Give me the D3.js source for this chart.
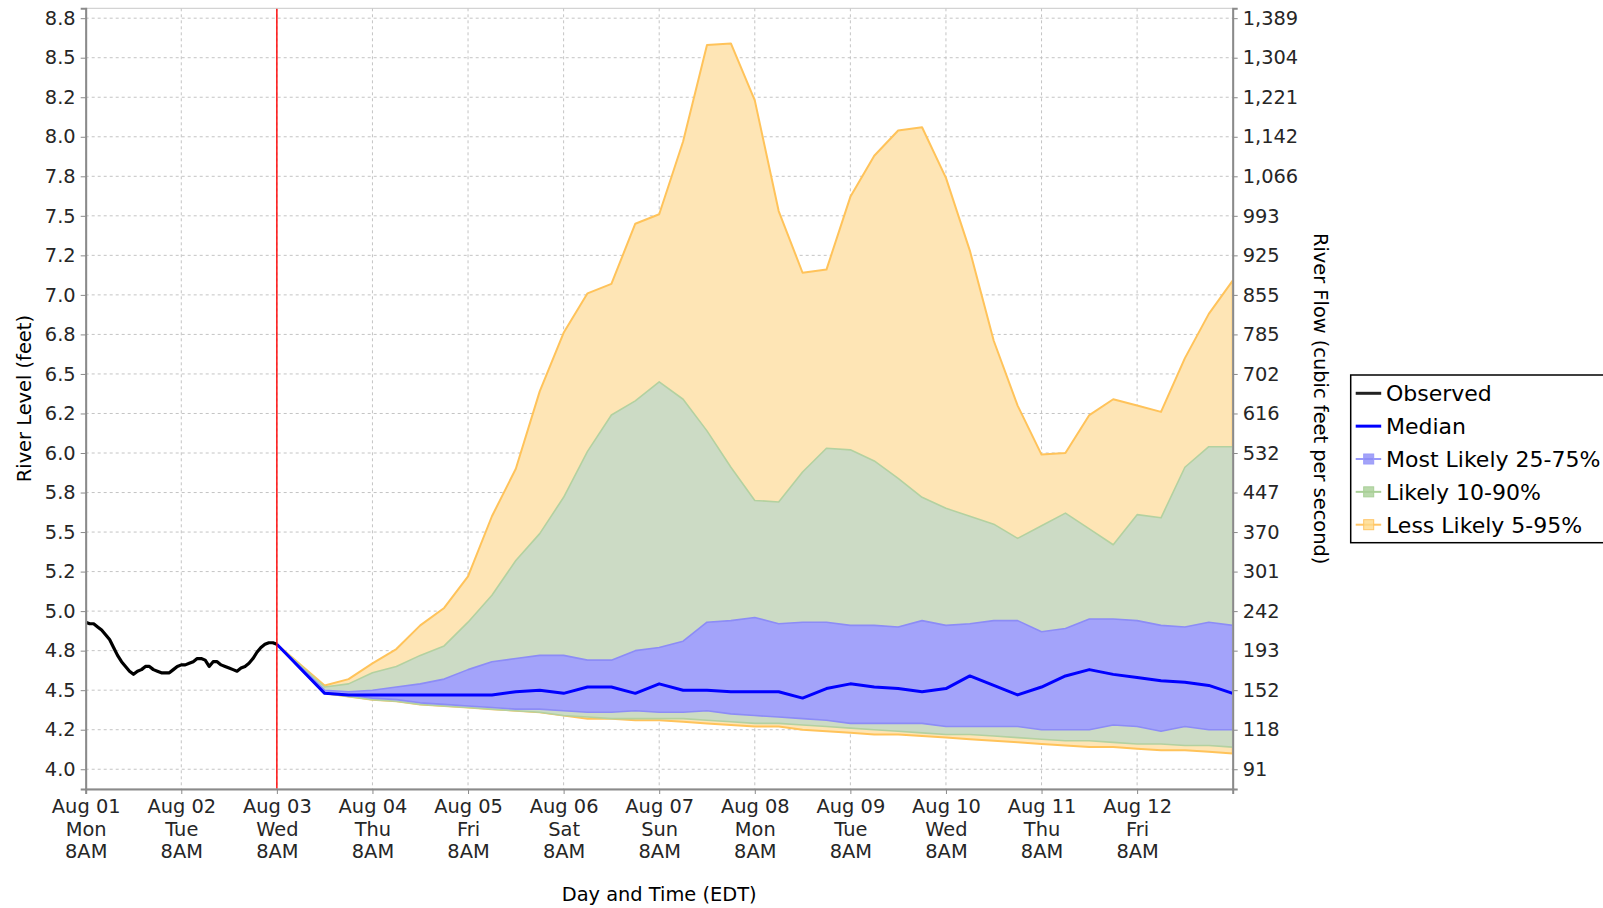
<!DOCTYPE html>
<html>
<head>
<meta charset="utf-8">
<script src="https://cdn.jsdelivr.net/npm/d3@7"></script>
<style>
  body { margin: 0; background: #fff; }
  text { font-family: "DejaVu Sans", sans-serif; }
</style>
</head>
<body>
<svg id="chart" width="1603" height="908"></svg>
<script>

// stage values, feet
// observed: hourly from Aug 01 8AM to Aug 03 8AM
const observed = [4.93, 4.92, 4.92, 4.90, 4.88, 4.85, 4.82, 4.77, 4.72, 4.68,
  4.65, 4.62, 4.60, 4.62, 4.63, 4.65, 4.65, 4.63, 4.62, 4.61,
  4.61, 4.61, 4.63, 4.65, 4.66, 4.66, 4.67, 4.68, 4.70, 4.70,
  4.69, 4.65, 4.68, 4.68, 4.66, 4.65, 4.64, 4.63, 4.62, 4.64,
  4.65, 4.67, 4.70, 4.74, 4.77, 4.79, 4.80, 4.80, 4.79];

// forecast: every 6 hours from Aug 03 8PM to Aug 13 8AM
const p95 = [4.53, 4.57, 4.67, 4.76, 4.91, 5.02, 5.22, 5.60, 5.90, 6.39, 6.76, 7.01, 7.07, 7.45, 7.51, 7.97, 8.58, 8.59, 8.23,
  7.53, 7.14, 7.16, 7.62, 7.88, 8.04, 8.06, 7.74, 7.28, 6.71, 6.30, 5.99, 6.00, 6.24, 6.34, 6.30, 6.26, 6.60, 6.88, 7.09];
const p90 = [4.52, 4.54, 4.61, 4.65, 4.72, 4.78, 4.93, 5.10, 5.32, 5.49, 5.72, 6.01, 6.24, 6.33, 6.45, 6.34, 6.14, 5.91, 5.70,
  5.69, 5.88, 6.03, 6.02, 5.95, 5.84, 5.72, 5.65, 5.60, 5.55, 5.46, 5.54, 5.62, 5.52, 5.42, 5.61, 5.59, 5.91, 6.04, 6.04];
const p75 = [4.50, 4.49, 4.50, 4.52, 4.54, 4.57, 4.63, 4.68, 4.70, 4.72, 4.72, 4.69, 4.69, 4.75, 4.77, 4.81, 4.93, 4.94, 4.96,
  4.92, 4.93, 4.93, 4.91, 4.91, 4.90, 4.94, 4.91, 4.92, 4.94, 4.94, 4.87, 4.89, 4.95, 4.95, 4.94, 4.91, 4.90, 4.93, 4.91];
const p50 = [4.48, 4.47, 4.47, 4.47, 4.47, 4.47, 4.47, 4.47, 4.49, 4.50, 4.48, 4.52, 4.52, 4.48, 4.54, 4.50, 4.50, 4.49, 4.49,
  4.49, 4.45, 4.51, 4.54, 4.52, 4.51, 4.49, 4.51, 4.59, 4.53, 4.47, 4.52, 4.59, 4.63, 4.60, 4.58, 4.56, 4.55, 4.53, 4.48];
const p25 = [4.48, 4.47, 4.45, 4.44, 4.42, 4.41, 4.40, 4.39, 4.38, 4.38, 4.37, 4.36, 4.36, 4.37, 4.36, 4.36, 4.37, 4.35, 4.34,
  4.33, 4.32, 4.31, 4.29, 4.29, 4.29, 4.29, 4.27, 4.27, 4.27, 4.27, 4.25, 4.25, 4.25, 4.28, 4.27, 4.24, 4.27, 4.25, 4.25];
const p10 = [4.48, 4.46, 4.44, 4.43, 4.41, 4.40, 4.39, 4.38, 4.37, 4.36, 4.34, 4.33, 4.32, 4.32, 4.32, 4.32, 4.31, 4.30, 4.29,
  4.29, 4.28, 4.27, 4.26, 4.25, 4.24, 4.23, 4.22, 4.22, 4.21, 4.20, 4.19, 4.18, 4.18, 4.17, 4.16, 4.16, 4.15, 4.15, 4.14];
const p05 = [4.48, 4.46, 4.44, 4.43, 4.41, 4.40, 4.39, 4.38, 4.37, 4.36, 4.34, 4.32, 4.32, 4.31, 4.31, 4.30, 4.29, 4.28, 4.27,
  4.27, 4.25, 4.24, 4.23, 4.22, 4.22, 4.21, 4.20, 4.19, 4.18, 4.17, 4.16, 4.15, 4.14, 4.14, 4.13, 4.12, 4.12, 4.11, 4.10];

const stageTicks = [4.0, 4.25, 4.5, 4.75, 5.0, 5.25, 5.5, 5.75, 6.0, 6.25, 6.5, 6.75, 7.0, 7.25, 7.5, 7.75, 8.0, 8.25, 8.5, 8.75];
const stageLabels = ["4.0", "4.2", "4.5", "4.8", "5.0", "5.2", "5.5", "5.8", "6.0", "6.2", "6.5", "6.8", "7.0", "7.2", "7.5", "7.8", "8.0", "8.2", "8.5", "8.8"];
const flowLabels = ["91", "118", "152", "193", "242", "301", "370", "447", "532", "616", "702", "785", "855", "925", "993", "1,066", "1,142", "1,221", "1,304", "1,389"];
const dayLabels = [["Aug 01", "Mon", "8AM"], ["Aug 02", "Tue", "8AM"], ["Aug 03", "Wed", "8AM"], ["Aug 04", "Thu", "8AM"],
  ["Aug 05", "Fri", "8AM"], ["Aug 06", "Sat", "8AM"], ["Aug 07", "Sun", "8AM"], ["Aug 08", "Mon", "8AM"],
  ["Aug 09", "Tue", "8AM"], ["Aug 10", "Wed", "8AM"], ["Aug 11", "Thu", "8AM"], ["Aug 12", "Fri", "8AM"]];
const legendNames = ["Observed", "Median", "Most Likely 25-75%", "Likely 10-90%", "Less Likely 5-95%"];

const start = new Date(2022, 7, 1, 8);
const issued = new Date(2022, 7, 3, 8);
const hour = 3600 * 1000;

(function() {

var m = {left: 85.7, right: 1232.7, top: 8.3, bottom: 789};

var svg = d3.select("#chart");

var x = d3.scaleTime()
  .domain([start, new Date(2022, 7, 13, 8)])
  .range([m.left, m.right]);
var y = d3.scaleLinear()
  .domain([3.875, 8.8125])
  .range([m.bottom, m.top]);

var obs = observed.map((v, i) => ({t: new Date(+start + i * hour), v: v}));
var last = observed[observed.length - 1];
// forecast starts from the last observation
var fc = [{t: issued, lo5: last, lo10: last, lo25: last, med: last, hi75: last, hi90: last, hi95: last}];
p50.forEach(function(v, i) {
  fc.push({t: new Date(+issued + (12 + 6 * i) * hour),
    lo5: p05[i], lo10: p10[i], lo25: p25[i], med: v, hi75: p75[i], hi90: p90[i], hi95: p95[i]});
});

var dayTicks = dayLabels.map((d, i) => new Date(+start + i * 24 * hour));

// grid
svg.append("g")
  .selectAll("line").data(stageTicks).enter().append("line")
    .attr("x1", m.left).attr("x2", m.right)
    .attr("y1", d => y(d)).attr("y2", d => y(d))
    .attr("stroke", "#c4c4c4").attr("stroke-dasharray", "3,3");
svg.append("g")
  .selectAll("line").data(dayTicks).enter().append("line")
    .attr("x1", d => x(d)).attr("x2", d => x(d))
    .attr("y1", m.top).attr("y2", m.bottom)
    .attr("stroke", "#c4c4c4").attr("stroke-dasharray", "3,3");

// bands
var bands = [
  {lo: "lo5", hi: "hi95", fill: "#fee5b5", stroke: "#ffc35a", w: 2},
  {lo: "lo10", hi: "hi90", fill: "#ccdbc5", stroke: "#b3d1a0", w: 1.6},
  {lo: "lo25", hi: "hi75", fill: "#a3a3fa", stroke: "#8c8cf6", w: 1.6}
];
bands.forEach(function(b) {
  svg.append("path")
    .datum(fc)
    .attr("fill", b.fill)
    .attr("stroke", b.stroke)
    .attr("stroke-width", b.w)
    .attr("stroke-linejoin", "round")
    .attr("d", d3.area().x(d => x(d.t)).y0(d => y(d[b.lo])).y1(d => y(d[b.hi])));
});

// median and observed
svg.append("path")
  .datum(fc)
  .attr("fill", "none").attr("stroke", "#0000ff").attr("stroke-width", 3)
  .attr("stroke-linejoin", "round")
  .attr("d", d3.line().x(d => x(d.t)).y(d => y(d.med)));

svg.append("path")
  .datum(obs)
  .attr("fill", "none").attr("stroke", "#000").attr("stroke-width", 3.2)
  .attr("stroke-linejoin", "round")
  .attr("d", d3.line().x(d => x(d.t)).y(d => y(d.v)));

// forecast issue time
svg.append("line")
  .attr("x1", x(issued)).attr("x2", x(issued))
  .attr("y1", m.top).attr("y2", m.bottom)
  .attr("stroke", "#ff0000").attr("stroke-width", 1.4);

// plot frame
svg.append("rect")
  .attr("x", m.left).attr("y", m.top)
  .attr("width", m.right - m.left).attr("height", m.bottom - m.top)
  .attr("fill", "none").attr("stroke", "#c8c8c8").attr("stroke-width", 1);

// axes
var yAxis = svg.append("g")
  .attr("transform", "translate(" + m.left + ",0)")
  .call(d3.axisLeft(y).tickValues(stageTicks).tickFormat((d, i) => stageLabels[i]).tickSizeOuter(0).tickSize(5).tickPadding(5));
var yAxis2 = svg.append("g")
  .attr("transform", "translate(" + m.right + ",0)")
  .call(d3.axisRight(y).tickValues(stageTicks).tickFormat((d, i) => flowLabels[i]).tickSizeOuter(0).tickSize(5).tickPadding(5));
var xAxis = svg.append("g")
  .attr("transform", "translate(0," + m.bottom + ")")
  .call(d3.axisBottom(x).tickValues(dayTicks).tickFormat("").tickSizeOuter(0).tickSize(5));

[yAxis, yAxis2, xAxis].forEach(function(a) {
  a.select(".domain").attr("stroke", "#8a8a8a").attr("stroke-width", 2);
  a.selectAll(".tick line").attr("stroke", "#8a8a8a");
  a.selectAll(".tick text").attr("fill", "#262626").style("font-size", "19.4px").style("font-family", "DejaVu Sans");
});

xAxis.selectAll(".tick").each(function(d, i) {
  var t = d3.select(this).select("text").attr("y", 0).attr("dy", null);
  dayLabels[i].forEach(function(s, j) {
    t.append("tspan").attr("x", 0).attr("y", 23.7 + j * 22.8).text(s);
  });
});

// axis titles
svg.append("text")
  .attr("transform", "translate(30.5," + ((m.top + m.bottom) / 2) + ") rotate(-90)")
  .attr("text-anchor", "middle")
  .style("font-size", "19.4px")
  .text("River Level (feet)");
svg.append("text")
  .attr("transform", "translate(1314," + ((m.top + m.bottom) / 2) + ") rotate(90)")
  .attr("text-anchor", "middle")
  .style("font-size", "19.4px")
  .text("River Flow (cubic feet per second)");
svg.append("text")
  .attr("x", (m.left + m.right) / 2).attr("y", 901)
  .attr("text-anchor", "middle")
  .style("font-size", "19.4px")
  .text("Day and Time (EDT)");

// legend
var lg = svg.append("g").attr("transform", "translate(1350.7,375)");
lg.append("rect")
  .attr("width", 300).attr("height", 167.7)
  .attr("fill", "#fff").attr("stroke", "#000").attr("stroke-width", 1.5);
var lineCol = ["#222", "#0000ff", "#9a9afa", "#a9cf97", "#ffc566"];
var boxCol = ["none", "none", "#8c8cf6", "#a9cf97", "#ffd98a"];
var item = lg.selectAll("g.item").data(legendNames).enter().append("g")
  .attr("class", "item")
  .attr("transform", (d, i) => "translate(0," + (18.3 + i * 32.85) + ")");
item.append("line")
  .attr("x1", 5).attr("x2", 30.5)
  .attr("stroke", (d, i) => lineCol[i])
  .attr("stroke-width", (d, i) => i < 2 ? 3 : 2);
item.filter((d, i) => i >= 2).append("rect")
  .attr("x", 13).attr("y", -5).attr("width", 10).attr("height", 10)
  .attr("fill", (d, i) => boxCol[i + 2]).attr("fill-opacity", 0.8)
  .attr("stroke", (d, i) => lineCol[i + 2]);
item.append("text")
  .attr("x", 35.3).attr("dy", "0.36em")
  .style("font-size", "22px")
  .text(d => d);

})();

</script>
</body>
</html>
